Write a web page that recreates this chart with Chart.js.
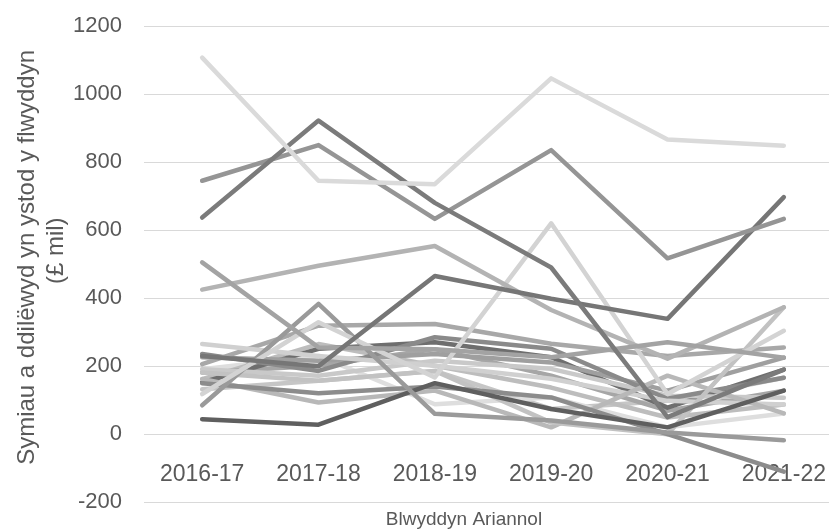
<!DOCTYPE html>
<html>
<head>
<meta charset="utf-8">
<script src="https://cdn.jsdelivr.net/npm/chart.js@4.4.0/dist/chart.umd.min.js"></script>
<style>
  html, body { margin: 0; padding: 0; background: #fff; overflow: hidden; }
  #chart-wrap { position: relative; width: 860px; height: 531px; }
</style>
</head>
<body>
<div id="chart-wrap"><canvas id="write-off-chart"></canvas></div>
<script>
// Blwyddyn Ariannol (x categories)
const years = ["2016-17", "2017-18", "2018-19", "2019-20", "2020-21", "2021-22"];

// Symiau a ddilëwyd (£ mil) - one array per line
const lineA = [1107, 745, 735, 1046, 866, 848];
const lineB = [637, 922, 680, 490, 50, 190];
const lineC = [745, 850, 633, 835, 517, 633];
const lineD = [230, 200, 465, 398, 339, 697];
const lineE = [505, 255, 250, 226, 270, 225];
const lineF = [425, 495, 553, 365, 222, 373];
const lineG = [118, 329, 167, 620, 118, 304];
const lineH = [85, 383, 60, 40, 5, -18];
const lineI = [44, 28, 150, 74, 20, 128];
const lineJ = [150, 120, 140, 108, 0, -110];
const lineK = [181, 157, 186, 34, 0, 373];
const lineL = [162, 93, 128, 20, 172, 61];
const lineM = [265, 230, 201, 163, 98, 87];
const lineN = [206, 319, 324, 266, 230, 255];
const lineO = [236, 186, 285, 251, 104, 166];
const lineP = [226, 216, 236, 211, 128, 225];
const lineQ = [191, 172, 216, 192, 113, 107];
const lineR = [152, 251, 270, 226, 78, 190];
const lineS = [181, 201, 250, 172, 69, 128];
const lineT = [162, 265, 201, 137, 49, 87];
const lineU = [191, 230, 88, 108, 20, 61];
const lineV = [132, 157, 186, 74, 98, 166];

const allLines = [lineA, lineB, lineC, lineD, lineE, lineF, lineG, lineH, lineI, lineJ, lineK,
                  lineL, lineM, lineN, lineO, lineP, lineQ, lineR, lineS, lineT, lineU, lineV];

// grey shades, same order as allLines
const lineColours = ["#dadada", "#7b7b7b", "#959595", "#767676", "#a3a3a3", "#b3b3b3", "#d3d3d3",
                     "#9a9a9a", "#5f5f5f", "#8c8c8c", "#c2c2c2", "#b8b8b8", "#d0d0d0", "#a8a8a8",
                     "#8a8a8a", "#9f9f9f", "#c9c9c9", "#6e6e6e", "#a6a6a6", "#bdbdbd", "#dedede", "#c6c6c6"];

const textGrey = "#595959";
const fontFamily = "'Liberation Sans', Arial, sans-serif";
const nbsp = "\u00a0";

const datasets = allLines.map((values, i) => ({
    label: "Cyfres " + (i + 1),
    data: values,
    borderColor: lineColours[i],
    backgroundColor: lineColours[i],
    borderWidth: 4.5,
    borderCapStyle: "round",
    borderJoinStyle: "round",
    pointRadius: 0,
    tension: 0,
    fill: false
}));

new Chart(document.getElementById("write-off-chart"), {
    type: "line",
    data: { labels: years, datasets: datasets },
    options: {
        responsive: true,
        maintainAspectRatio: false,
        animation: false,
        layout: { padding: { top: 26, right: 18, left: 0, bottom: 0 } },
        plugins: {
            legend: { display: false },
            tooltip: { enabled: false },
            title: {
                display: true,
                position: "bottom",
                fullSize: false,
                // trailing spaces pull the centred title a bit left, like the original
                text: "Blwyddyn Ariannol" + nbsp.repeat(11),
                color: textGrey,
                font: { family: fontFamily, size: 19, weight: "normal", lineHeight: 1.2 },
                padding: { top: 6, bottom: 0 }
            }
        },
        scales: {
            x: {
                type: "category",
                offset: true,
                position: { y: 0 },
                grid: { display: false },
                border: { display: false },
                ticks: {
                    color: textGrey,
                    font: { family: fontFamily, size: 23 },
                    padding: 19,
                    maxRotation: 0,
                    autoSkip: false
                }
            },
            y: {
                min: -200,
                max: 1200,
                grid: { color: "#d9d9d9", lineWidth: 1, drawTicks: false },
                border: { display: false },
                ticks: {
                    stepSize: 200,
                    format: { useGrouping: false },
                    color: textGrey,
                    font: { family: fontFamily, size: 22 },
                    padding: 22
                },
                title: {
                    display: true,
                    // leading spaces nudge the rotated title upwards a little
                    text: [nbsp.repeat(2) + "Symiau a ddilëwyd yn ystod y flwyddyn", nbsp.repeat(4) + "(£ mil)"],
                    color: textGrey,
                    font: { family: fontFamily, size: 24 },
                    padding: { top: 13, bottom: 0 }
                },
                afterFit: (scale) => {
                    scale.width = 144;
                    // tick padding should not push the plot area in
                    scale.paddingTop = 0;
                    scale.paddingBottom = 0;
                }
            }
        }
    }
});
</script>
</body>
</html>
